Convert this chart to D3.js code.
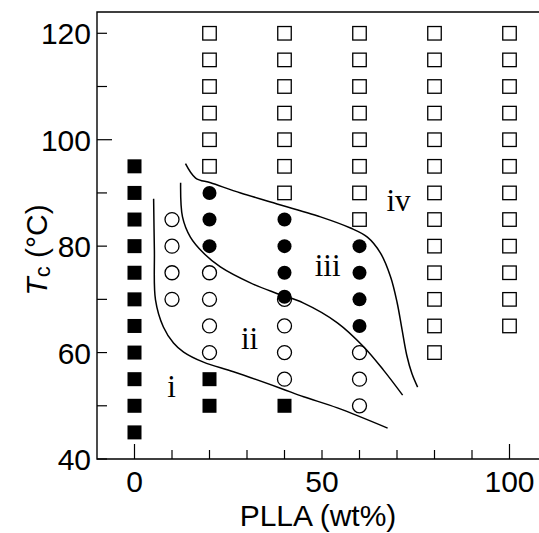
<!DOCTYPE html>
<html>
<head>
<meta charset="UTF-8">
<title>Tc vs PLLA</title>
<script src="https://d3js.org/d3.v7.min.js"></script>
<style>
  body { margin: 0; background: #fff; }
  svg { display: block; }
  .tick-label { font-family: "Liberation Sans", Arial, sans-serif; font-size: 30px; fill: #000; }
  .axis-title { font-family: "Liberation Sans", Arial, sans-serif; font-size: 30px; fill: #000; }
  .region { font-family: "Liberation Serif", "Times New Roman", serif; font-size: 31px; fill: #000; }
</style>
</head>
<body>
<svg width="539" height="533"></svg>
<script>
// PLLA content (wt%) and crystallisation temperature Tc (°C) of each point
const filledSquares = [
  [0, 45], [0, 50], [0, 55], [0, 60], [0, 65], [0, 70], [0, 75], [0, 80], [0, 85], [0, 90], [0, 95],
  [20, 50], [20, 55],
  [40, 50]
];
const openCircles = [
  [10, 70], [10, 75], [10, 80], [10, 85],
  [20, 60], [20, 65], [20, 70], [20, 75],
  [40, 55], [40, 60], [40, 65], [40, 70],
  [60, 50], [60, 55], [60, 60]
];
const filledCircles = [
  [20, 80], [20, 85], [20, 90],
  [40, 70.5], [40, 75], [40, 80], [40, 85],
  [60, 65], [60, 70], [60, 75], [60, 80]
];
const openSquares = [
  [20, 95], [20, 100], [20, 105], [20, 110], [20, 115], [20, 120],
  [40, 90], [40, 95], [40, 100], [40, 105], [40, 110], [40, 115], [40, 120],
  [60, 85], [60, 90], [60, 95], [60, 100], [60, 105], [60, 110], [60, 115], [60, 120],
  [80, 60], [80, 65], [80, 70], [80, 75], [80, 80], [80, 85], [80, 90], [80, 95], [80, 100], [80, 105], [80, 110], [80, 115], [80, 120],
  [100, 65], [100, 70], [100, 75], [100, 80], [100, 85], [100, 90], [100, 95], [100, 100], [100, 105], [100, 110], [100, 115], [100, 120]
];

// boundary lines between regions
const boundaryA = [
  [5.1, 88.9], [5.3, 79.3], [5.6, 69.9], [7.7, 64.8], [10.4, 61.8], [13.1, 60.1],
  [18.4, 58.2], [26.4, 56.4], [38.9, 53.3], [45.1, 51.7], [54.1, 49.6], [67.5, 45.8]
];
const boundaryB = [
  [12.3, 91.9], [12.8, 85.5], [14.9, 81.7], [18.4, 78.7], [22.9, 76.1], [30.9, 73.1],
  [37.6, 71.2], [45.1, 69.3], [54.1, 65.6], [61.1, 61.1], [66.4, 56.7], [71.5, 52.0]
];
const boundaryC = [
  [13.6, 95.5], [16.3, 92.8], [20.3, 91.9], [28.3, 90.0], [36.3, 88.3], [49.6, 85.5],
  [57.6, 83.4], [62.1, 81.7], [65.6, 78.7], [68.3, 74.2], [70.0, 69.5], [71.3, 64.5],
  [72.6, 59.5], [74.0, 56.0], [75.5, 53.5]
];

const regionLabels = [
  { text: "i", x: 9.9, y: 51.7 },
  { text: "ii", x: 30.7, y: 60.7 },
  { text: "iii", x: 51.5, y: 74.4 },
  { text: "iv", x: 70.4, y: 86.6 }
];

const xTicks = [0, 10, 20, 30, 40, 50, 60, 70, 80, 90, 100];
const xTickLabels = [0, 50, 100];
const yTicks = [40, 50, 60, 70, 80, 90, 100, 110, 120];
const yTickLabels = [40, 60, 80, 100, 120];

const svg = d3.select("svg");

const x = d3.scaleLinear().domain([-10, 110]).range([97, 547]);
const y = d3.scaleLinear().domain([40, 124]).range([459, 12]);

// frame (left, bottom, top; right side falls outside the picture)
svg.append("path")
  .attr("d", `M${x(110)},${y(124)}H${x(-10)}V${y(40)}H${x(110)}`)
  .attr("fill", "none")
  .attr("stroke", "#000")
  .attr("stroke-width", 1.4);

// inward ticks
svg.selectAll(".xtick")
  .data(xTicks)
  .enter().append("line")
  .attr("x1", d => x(d)).attr("x2", d => x(d))
  .attr("y1", y(40))
  .attr("y2", d => y(40) - (d === 0 || d === 100 ? 15 : 9))
  .attr("stroke", "#000").attr("stroke-width", 1.2);

svg.selectAll(".ytick")
  .data(yTicks)
  .enter().append("line")
  .attr("y1", d => y(d)).attr("y2", d => y(d))
  .attr("x1", x(-10))
  .attr("x2", d => x(-10) + (d === 100 ? 15 : 10))
  .attr("stroke", "#000").attr("stroke-width", 1.2);

svg.selectAll(".xlab")
  .data(xTickLabels)
  .enter().append("text")
  .attr("class", "tick-label")
  .attr("x", d => x(d))
  .attr("y", 492)
  .attr("text-anchor", "middle")
  .text(d => d);

svg.selectAll(".ylab")
  .data(yTickLabels)
  .enter().append("text")
  .attr("class", "tick-label")
  .attr("x", 91)
  .attr("y", d => y(d) + 11)
  .attr("text-anchor", "end")
  .text(d => d);

// axis titles
svg.append("text")
  .attr("class", "axis-title")
  .attr("x", 318)
  .attr("y", 526)
  .attr("text-anchor", "middle")
  .text("PLLA (wt%)");

const yt = svg.append("text")
  .attr("class", "axis-title")
  .attr("transform", "translate(47,250) rotate(-90)")
  .attr("text-anchor", "middle");
yt.append("tspan").attr("font-style", "italic").text("T");
yt.append("tspan").attr("font-size", "22px").attr("dy", 3).text("c");
yt.append("tspan").attr("dy", -3).text(" (°C)");

// boundary curves
const line = d3.line()
  .x(d => x(d[0]))
  .y(d => y(d[1]))
  .curve(d3.curveCatmullRom.alpha(0.5));

[boundaryA, boundaryB, boundaryC].forEach(b => {
  svg.append("path")
    .attr("d", line(b))
    .attr("fill", "none")
    .attr("stroke", "#000")
    .attr("stroke-width", 1.5);
});

// markers
const sq = 13.5;
svg.selectAll(".osq")
  .data(openSquares)
  .enter().append("rect")
  .attr("x", d => x(d[0]) - sq / 2)
  .attr("y", d => y(d[1]) - sq / 2)
  .attr("width", sq).attr("height", sq)
  .attr("fill", "#fff").attr("stroke", "#000").attr("stroke-width", 1.3);

svg.selectAll(".fsq")
  .data(filledSquares)
  .enter().append("rect")
  .attr("x", d => x(d[0]) - 7)
  .attr("y", d => y(d[1]) - 7)
  .attr("width", 14).attr("height", 14)
  .attr("fill", "#000");

svg.selectAll(".fci")
  .data(filledCircles)
  .enter().append("circle")
  .attr("cx", d => x(d[0]))
  .attr("cy", d => y(d[1]))
  .attr("r", 7)
  .attr("fill", "#000");

svg.selectAll(".oci")
  .data(openCircles)
  .enter().append("circle")
  .attr("cx", d => x(d[0]))
  .attr("cy", d => y(d[1]))
  .attr("r", 7)
  .attr("fill", "none").attr("stroke", "#000").attr("stroke-width", 1.3);

// region names
svg.selectAll(".region")
  .data(regionLabels)
  .enter().append("text")
  .attr("class", "region")
  .attr("x", d => x(d.x))
  .attr("y", d => y(d.y))
  .attr("text-anchor", "middle")
  .text(d => d.text);
</script>
</body>
</html>
